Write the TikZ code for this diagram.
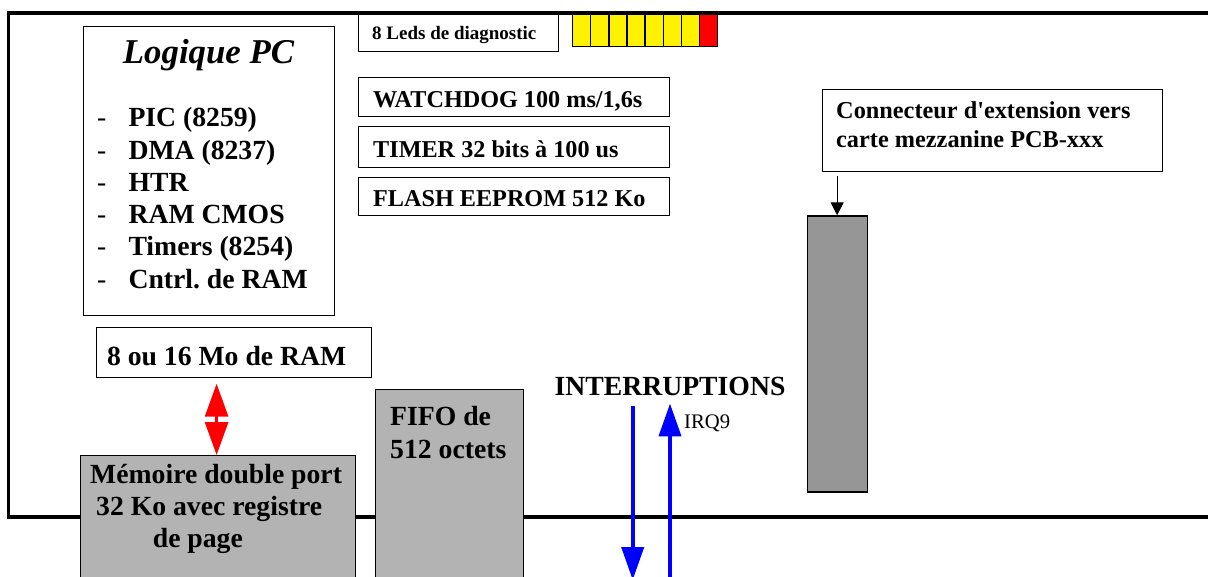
\documentclass[tikz,border=0pt]{standalone}
\usepackage{fontspec}
\setmainfont{Liberation Serif}
\usetikzlibrary{arrows.meta,positioning,calc}
\definecolor{bargray}{HTML}{969696}
\definecolor{boxgray}{HTML}{B3B3B3}
\frenchspacing

\begin{document}
\begin{tikzpicture}[x=1pt, y=-1pt,
  frame/.style={draw, line width=1pt, anchor=north west, inner sep=0pt},
  box/.style={frame, inner xsep=14.4pt, align=flush left, text height=20.8pt, text depth=0pt,
    font=\bfseries\fontsize{24.2}{29}\selectfont},
  gbox/.style={draw, line width=1.3pt, fill=boxgray, anchor=north west, inner sep=0pt},
  big/.style={inner sep=0pt, anchor=base west, font=\bfseries\fontsize{27.7}{32.3}\selectfont},
  led/.style={draw, line width=1.3pt, anchor=north west, minimum width=18.1pt, minimum height=32pt, inner sep=0pt},
  board/.style={line width=3.6pt},
  irq/.style={blue, line width=4pt, -{Triangle[length=33pt, width=22pt]}},
]
\useasboundingbox (0,0) rectangle (1208,576);
\clip (0,0) rectangle (1208,576);

% Carte
\draw[board] (1215,13.2) -- (8.3,13.2) -- (8.3,516.7) -- (1215,516.7);

% Logique PC
\node[frame, minimum width=251pt, minimum height=289pt] (pc) at (83.3,26) {};
\node[inner sep=0pt, anchor=base, font=\bfseries\itshape\fontsize{34.8}{40}\selectfont] (pctitle) at (208.5,63) {Logique PC};
\foreach \t [count=\i] in {PIC (8259), DMA (8237), HTR, RAM CMOS, Timers (8254), Cntrl. de RAM} {
  \node[big, font=\fontsize{27.7}{32.3}\selectfont] (dash\i) at (97,{126.7+32.3*(\i-1)}) {-};
  \node[big] (item\i) at (128.3,{126.7+32.3*(\i-1)}) {\t};
}

% Leds de diagnostic
\node[box, font=\bfseries\fontsize{19}{23}\selectfont, inner xsep=13.4pt, text width=172.6pt, minimum height=37.4pt, text height=14.6pt] (leds) at (358.3,13.3) {8 Leds de diagnostic};
\foreach \i/\c in {1/yellow,2/yellow,3/yellow,4/yellow,5/yellow,6/yellow,7/yellow,8/red}
  \node[led, fill=\c] (led\i) at ({572+18.1*(\i-1)},14) {};

% Watchdog, timer, flash
\node[box, text width=282pt, minimum height=39.3pt] (wdog) at (358.3,76.7) {WATCHDOG 100 ms/1,6s};
\node[box, text width=282pt, minimum height=40.7pt] (timer) at (358.3,126) {TIMER 32 bits à 100 us};
\node[box, text width=282pt, minimum height=38.3pt] (flash) at (358.3,176.7) {FLASH EEPROM 512 Ko};

% Connecteur mezzanine
\node[frame, minimum width=339.7pt, minimum height=81.7pt] (conn) at (822,89) {};
\node[inner sep=0pt, anchor=base west, text width=312pt, align=flush left, font=\bfseries\fontsize{24.3}{29}\selectfont] (conntxt) at (836,118.3) {Connecteur d\textquotesingle extension vers\\carte mezzanine PCB-xxx};
\node[gbox, fill=bargray, minimum width=60pt, minimum height=276pt] (bar) at (806.5,215.3) {};
\draw[line width=1pt, -{Triangle[length=13pt, width=13pt]}] ([yshift=-4pt]conn.south -| bar.north) -- (bar.north);

% RAM et memoire double port
\node[box, font=\bfseries\fontsize{27.7}{32}\selectfont, inner xsep=10.5pt, text width=254pt, minimum height=49.7pt, text height=26.4pt] (ram) at (96,327) {8 ou 16 Mo de RAM};
\node[gbox, minimum width=275pt, minimum height=140pt] (mem) at (80,455) {};
\node[big, text width=265pt, align=flush left] (memtxt) at (90,483) {Mémoire double port\\\hspace*{6pt}32 Ko avec registre\\\hspace*{62.7pt}de page};
\coordinate (rx) at (216.6,0);
\draw[red, line width=3pt, {Triangle[length=33pt, width=23pt]}-{Triangle[length=33pt, width=23pt]}, shorten <=6pt] (ram.south -| rx) -- (mem.north -| rx);

% FIFO
\node[gbox, minimum width=148.5pt, minimum height=200pt] (fifo) at (374.5,389) {};
\node[big, text width=125pt, align=flush left, font=\bfseries\fontsize{27.7}{33}\selectfont] (fifotxt) at (390,425) {FIFO de\\512 octets};

% Interruptions
\node[big, anchor=base] (intr) at (670,395) {INTERRUPTIONS};
\coordinate (dnend) at (632.7,580);
\coordinate (upbeg) at (670,582);
\draw[irq] ([yshift=-11pt]intr.south -| dnend) -- (dnend);
\draw[irq] (upbeg) -- ([yshift=-8pt]intr.south -| upbeg);
\node[inner sep=0pt, anchor=base west, font=\fontsize{20.7}{24}\selectfont] (irqlbl) at (684,428) {IRQ9};

\end{tikzpicture}
\end{document}
